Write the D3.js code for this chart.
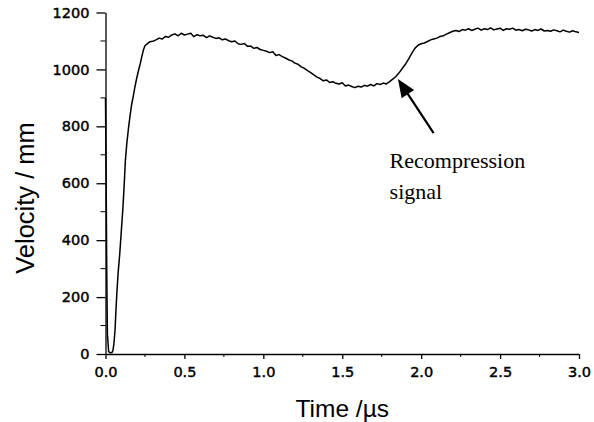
<!DOCTYPE html>
<html>
<head>
<meta charset="utf-8">
<script src="https://cdn.jsdelivr.net/npm/d3@7"></script>
<style>
  html, body { margin: 0; padding: 0; background: #fff; }
  svg { display: block; }
</style>
</head>
<body>
<svg id="chart" width="594" height="422"></svg>
<script>
// ---- data ----
const timeUs = [
  0, 0.004, 0.008, 0.012, 0.02, 0.03, 0.04, 0.047, 0.053, 0.06, 0.066, 0.072, 0.08, 0.09, 0.1,
  0.11, 0.118, 0.126, 0.135, 0.145, 0.155, 0.165, 0.176, 0.187, 0.198, 0.21, 0.22, 0.23, 0.24, 0.25,
  0.26, 0.28, 0.30, 0.32, 0.34, 0.36, 0.38, 0.40, 0.42, 0.44, 0.46, 0.48, 0.50, 0.52, 0.54, 0.56,
  0.58, 0.60, 0.62, 0.64, 0.66, 0.68, 0.70, 0.72, 0.74, 0.76, 0.78, 0.80, 0.82, 0.84, 0.86, 0.88,
  0.90, 0.92, 0.94, 0.96, 0.98, 1.00, 1.02, 1.04, 1.06, 1.08, 1.10, 1.12, 1.14, 1.16, 1.18, 1.20,
  1.22, 1.24, 1.26, 1.28, 1.30, 1.32, 1.34, 1.36, 1.38, 1.40, 1.42, 1.44, 1.46, 1.48, 1.50, 1.52,
  1.54, 1.56, 1.58, 1.60, 1.62, 1.64, 1.66, 1.68, 1.70, 1.72, 1.74, 1.76, 1.78, 1.80, 1.82, 1.84,
  1.86, 1.88, 1.90, 1.92, 1.94, 1.96, 1.98, 2.00, 2.02, 2.04, 2.06, 2.08, 2.10, 2.12, 2.14, 2.16,
  2.18, 2.20, 2.22, 2.24, 2.26, 2.28, 2.30, 2.32, 2.34, 2.36, 2.38, 2.40, 2.42, 2.44, 2.46, 2.48,
  2.50, 2.52, 2.54, 2.56, 2.58, 2.60, 2.62, 2.64, 2.66, 2.68, 2.70, 2.72, 2.74, 2.76, 2.78, 2.80,
  2.82, 2.84, 2.86, 2.88, 2.90, 2.92, 2.94, 2.96, 2.98, 3.00
];
const velocity = [
  900, 620, 280, 70, 8, 4, 5, 12, 35, 80, 150, 215, 285, 350, 430,
  510, 590, 680, 740, 790, 835, 875, 906, 940, 970, 998, 1020, 1045, 1068, 1083,
  1088, 1097, 1099, 1104, 1110, 1107, 1116, 1113, 1121, 1125, 1118, 1127, 1121, 1124, 1127, 1115,
  1122, 1118, 1120, 1112, 1118, 1113, 1109, 1111, 1104, 1107, 1101, 1097, 1100, 1090, 1088, 1091,
  1081, 1082, 1074, 1077, 1070, 1067, 1064, 1059, 1062, 1049, 1052, 1045, 1040, 1034, 1030, 1022,
  1018, 1009, 1004, 996, 989, 981, 973, 968, 960, 963, 954, 957, 951, 949, 953, 942,
  945, 940, 936, 941, 938, 944, 941, 947, 942, 950, 947, 952, 949, 957, 966, 975,
  988, 1003, 1018, 1036, 1056, 1074, 1085, 1090, 1093, 1098, 1104, 1107, 1110, 1116, 1118, 1124,
  1129, 1134, 1137, 1133, 1140, 1138, 1143, 1137, 1141, 1145, 1138, 1143, 1140, 1146, 1139, 1142,
  1145, 1137, 1143, 1141, 1145, 1138, 1140, 1136, 1141, 1139, 1135, 1140, 1137, 1142, 1135, 1137,
  1134, 1139, 1136, 1132, 1138, 1134, 1131, 1136, 1132, 1130
];
const xTicks = [0, 0.5, 1.0, 1.5, 2.0, 2.5, 3.0];
const xMinorTicks = [0.25, 0.75, 1.25, 1.75, 2.25, 2.75];
const yTicks = [0, 200, 400, 600, 800, 1000, 1200];
const yMinorTicks = [100, 300, 500, 700, 900, 1100];
const xLabel = "Time /\u00b5s";
const yLabel = "Velocity / mm";
const noteLines = ["Recompression", "signal"];
const arrowTip = [1.853, 966];
const arrowTail = [2.079, 776];

// ---- layout ----
const svg = d3.select("#chart");
const x = d3.scaleLinear().domain([0, 3]).range([105.5, 579]);
const y = d3.scaleLinear().domain([0, 1200]).range([354, 12.5]);
const tickFont = "'DejaVu Sans', sans-serif";

// x axis
const gx = svg.append("g").attr("transform", `translate(0,${y(0)})`);
gx.call(d3.axisBottom(x).tickValues(xTicks).tickFormat(d3.format(".1f"))
  .tickSize(5).tickSizeOuter(0).tickPadding(8));
gx.append("g").selectAll("line").data(xMinorTicks).join("line")
  .attr("x1", d => x(d)).attr("x2", d => x(d)).attr("y1", 0).attr("y2", 3)
  .attr("stroke", "#000");

// y axis
const gy = svg.append("g").attr("transform", `translate(${x(0)},0)`);
gy.call(d3.axisLeft(y).tickValues(yTicks).tickFormat(d3.format("d"))
  .tickSize(9).tickSizeOuter(0).tickPadding(7));
gy.append("g").selectAll("line").data(yMinorTicks).join("line")
  .attr("y1", d => y(d)).attr("y2", d => y(d)).attr("x1", 0).attr("x2", -5)
  .attr("stroke", "#000");

svg.selectAll(".domain, .tick line").attr("stroke", "#000").attr("stroke-width", 1.3);
svg.selectAll(".tick text").attr("font-family", tickFont).attr("font-size", 14.5)
  .attr("fill", "#000").attr("stroke", "#000").attr("stroke-width", 0.45);

// curve
const pts = timeUs.map((t, i) => [t, velocity[i]]);
svg.append("path").datum(pts)
  .attr("fill", "none").attr("stroke", "#000").attr("stroke-width", 1.5)
  .attr("stroke-linejoin", "round")
  .attr("d", d3.line().x(d => x(d[0])).y(d => y(d[1])));

// axis titles
svg.append("text").attr("x", (x(0) + x(3)) / 2).attr("y", 416.5)
  .attr("text-anchor", "middle").attr("font-family", "'Liberation Sans', Arial, sans-serif")
  .attr("font-size", 24.5).text(xLabel);
svg.append("text").attr("transform", `translate(33.5,198) rotate(-90)`)
  .attr("text-anchor", "middle").attr("font-family", "'Liberation Sans', Arial, sans-serif")
  .attr("font-size", 25.5).text(yLabel);

// annotation
const tip = [x(arrowTip[0]), y(arrowTip[1])];
const tail = [x(arrowTail[0]), y(arrowTail[1])];
const dx = tip[0] - tail[0], dy = tip[1] - tail[1];
const len = Math.hypot(dx, dy);
const ux = dx / len, uy = dy / len;
const headLen = 18, headHalf = 7.5;
const bx = tip[0] - ux * headLen, by = tip[1] - uy * headLen;
svg.append("line").attr("x1", tail[0]).attr("y1", tail[1])
  .attr("x2", bx + ux * 2).attr("y2", by + uy * 2)
  .attr("stroke", "#000").attr("stroke-width", 2.2);
svg.append("polygon")
  .attr("points", [tip, [bx - uy * headHalf, by + ux * headHalf], [bx + uy * headHalf, by - ux * headHalf]]
    .map(p => p.join(",")).join(" "))
  .attr("fill", "#000");
svg.append("g").selectAll("text").data(noteLines).join("text")
  .attr("x", x(1.8)).attr("y", (d, i) => y(653) + i * 31)
  .attr("font-family", "'Liberation Serif', 'Times New Roman', serif")
  .attr("font-size", 22).attr("fill", "#000").text(d => d);
</script>
</body>
</html>
